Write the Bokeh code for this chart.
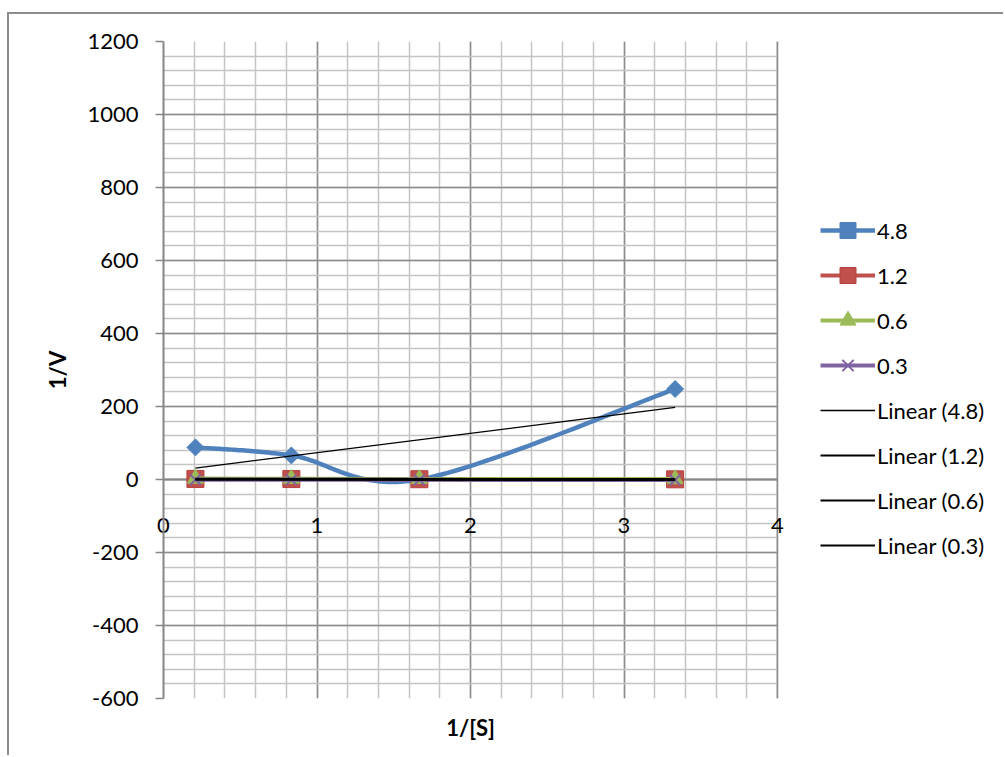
import numpy as np
from bokeh.plotting import figure
from bokeh.models import (FixedTicker, Range1d, Span, Legend, LegendItem, BoxAnnotation,
                          LinearAxis)
from bokeh.embed import file_html
from bokeh.resources import INLINE

# ---------------- data ----------------
series_names = ["4.8", "1.2", "0.6", "0.3"]
inv_s = [0.208, 0.833, 1.667, 3.333]          # 1/[S]
inv_v_48 = [88, 66, 0, 248]                    # 1/V, series 4.8
inv_v_12 = [1.5, 1.2, 0.8, 0.5]                # 1/V, series 1.2
inv_v_06 = [2.5, 2.0, 1.6, 1.2]                # 1/V, series 0.6
inv_v_03 = [-0.5, -0.8, -1.0, -1.3]            # 1/V, series 0.3
x_tick_values = [0, 1, 2, 3, 4]
x_tick_labels = ["0", "1", "2", "3", "4"]
y_tick_values = [-600, -400, -200, 0, 200, 400, 600, 800, 1000, 1200]
y_tick_labels = ["-600", "-400", "-200", "0", "200", "400", "600", "800", "1000", "1200"]
x_title, y_title = "1/[S]", "1/V"

FONT = "Lato"
FS = "22px"
MAJOR = "#8c8c8c"
MINOR = "#c4c4c4"
AXIS = "#868686"

OX, OY = 9, 14              # canvas origin inside the bordered chart area
FRAME_L, PLOT_R = 163, 777  # page x of x = 0 and x = 4
X0, X1 = x_tick_values[0], x_tick_values[-1]
X_MID = (X0 + X1) / 2
# the frame runs on to the right page edge so the legend can sit inside it
x_end = X0 + (X1 - X0) * (1005 - FRAME_L) / (PLOT_R - FRAME_L)


def smooth(xs, ys, n=40):
    """Catmull-Rom style smoothing (like Excel's smoothed line)."""
    P = np.column_stack([xs, ys]).astype(float)
    ext = np.vstack([P[0], P, P[-1]])
    out = []
    for i in range(len(P) - 1):
        p0, p1, p2, p3 = ext[i], ext[i + 1], ext[i + 2], ext[i + 3]
        c1 = p1 + (p2 - p0) / 6.0
        c2 = p2 - (p3 - p1) / 6.0
        t = np.linspace(0, 1, n)[:, None]
        seg = ((1 - t) ** 3) * p1 + 3 * ((1 - t) ** 2) * t * c1 + 3 * (1 - t) * t ** 2 * c2 + t ** 3 * p2
        out.append(seg if i == 0 else seg[1:])
    arr = np.vstack(out)
    return arr[:, 0], arr[:, 1]


p = figure(width=1005 - OX, height=757 - OY, x_range=Range1d(X0, x_end),
           y_range=Range1d(y_tick_values[0], y_tick_values[-1]),
           output_backend="svg", toolbar_location=None,
           min_border_left=FRAME_L - OX, min_border_right=0, min_border_top=41 - OY,
           min_border_bottom=59)
p.margin = (OY - 2, 0, 0, OX - 2)
p.styles = {"border-left": f"2px solid {MAJOR}", "border-top": f"2px solid {MAJOR}"}
p.background_fill_color = "white"
p.border_fill_color = "white"
p.outline_line_color = None

xt = FixedTicker(ticks=x_tick_values, minor_ticks=[i * 0.2 for i in range(21)])
yt = FixedTicker(ticks=y_tick_values, minor_ticks=list(range(-600, 1201, 40)))
p.yaxis.ticker = yt
p.xgrid.ticker = xt
p.ygrid.ticker = yt
for g in (p.xgrid, p.ygrid):
    g.grid_line_color = MAJOR
    g.grid_line_width = 1.5
    g.minor_grid_line_color = MINOR
    g.minor_grid_line_width = 1.5

# y axis
ya = p.yaxis[0]
ya.axis_line_color = AXIS
ya.axis_line_width = 2
ya.major_tick_line_color = AXIS
ya.major_tick_line_width = 1.5
ya.major_tick_out = 8
ya.major_tick_in = 0
ya.minor_tick_out = 0
ya.minor_tick_in = 0
ya.major_label_standoff = 17
ya.major_label_overrides = {v: s for v, s in zip(y_tick_values, y_tick_labels)}
ya.major_label_text_font = FONT
ya.major_label_text_font_size = FS
ya.major_label_text_color = "black"
ya.axis_label = y_title
ya.axis_label_text_font = FONT
ya.axis_label_text_font_size = FS
ya.axis_label_text_font_style = "bold"
ya.axis_label_text_color = "black"
ya.axis_label_standoff = 13


def bare_x_axis(ax):
    ax.axis_line_color = None
    ax.major_tick_out = 0
    ax.major_tick_in = 0
    ax.minor_tick_out = 0
    ax.minor_tick_in = 0
    ax.major_label_text_font = FONT
    ax.major_label_text_font_size = FS
    ax.major_label_text_color = "black"
    ax.axis_label = None


# x axis 1 (next to the frame): carries the title, centred over the plotted 0..4 span
xa = p.xaxis[0]
bare_x_axis(xa)
xa.ticker = FixedTicker(ticks=[X_MID], minor_ticks=[])
xa.major_label_overrides = {X_MID: x_title}
xa.major_label_text_font_style = "bold"
xa.major_label_standoff = 15

# x axis 2: tick labels lifted up to sit just under the y = 0 crossing line
xb = LinearAxis(ticker=FixedTicker(ticks=x_tick_values, minor_ticks=[]))
bare_x_axis(xb)
xb.major_label_overrides = {v: s for v, s in zip(x_tick_values, x_tick_labels)}
xb.major_label_standoff = -226
p.add_layout(xb, "below")

# horizontal axis line crossing at 0
p.add_layout(Span(location=0, dimension="width", line_color=AXIS, line_width=2, level="underlay"))
# blank out the frame right of x = 4 (legend area) and close the plot area
p.add_layout(BoxAnnotation(left=X1, fill_color="white", fill_alpha=1, line_color=None,
                           level="underlay"))
p.add_layout(Span(location=X1, dimension="height", line_color=MAJOR, line_width=1.5,
                  level="underlay"))

# ---------------- series ----------------
BLUE, RED, GREEN, PURPLE = "#4F81BD", "#C0504D", "#9BBB59", "#8064A2"
items = []

sx, sy = smooth(inv_s, inv_v_48)
l48 = p.line(sx, sy, line_color=BLUE, line_width=4.5)
m48 = p.scatter(inv_s, inv_v_48, marker="square", angle=np.pi / 4, size=12,
                fill_color=BLUE, line_color=BLUE)
items.append(LegendItem(label="4.8", renderers=[l48, m48]))

l12 = p.line(inv_s, inv_v_12, line_color=RED, line_width=4)
m12 = p.scatter(inv_s, inv_v_12, marker="square", size=17, fill_color=RED, line_color="#B8403D")
items.append(LegendItem(label="1.2", renderers=[l12, m12]))

l06 = p.line(inv_s, inv_v_06, line_color=GREEN, line_width=4)
m06 = p.scatter(inv_s, inv_v_06, marker="triangle", size=16, fill_color=GREEN, line_color=GREEN)
items.append(LegendItem(label="0.6", renderers=[l06, m06]))

l03 = p.line(inv_s, inv_v_03, line_color=PURPLE, line_width=4)
m03 = p.scatter(inv_s, inv_v_03, marker="x", size=15, line_color=PURPLE, line_width=2)
items.append(LegendItem(label="0.3", renderers=[l03, m03]))

# linear trend lines
xs = np.array([inv_s[0], inv_s[-1]])
for name, ys, w in [("4.8", inv_v_48, 1.3), ("1.2", inv_v_12, 2),
                    ("0.6", inv_v_06, 2), ("0.3", inv_v_03, 2)]:
    k, b = np.polyfit(inv_s, ys, 1)
    tr = p.line(xs, k * xs + b, line_color="black", line_width=w)
    items.append(LegendItem(label=f"Linear ({name})", renderers=[tr]))

legend = Legend(items=items, location=(820 - FRAME_L, 133))
legend.label_text_font = FONT
legend.label_text_font_size = FS
legend.label_text_color = "black"
legend.glyph_width = 55
legend.glyph_height = 40
legend.label_height = 40
legend.label_standoff = 2
legend.spacing = 5
legend.padding = 0
legend.margin = 0
legend.border_line_color = None
legend.background_fill_alpha = 0
p.add_layout(legend, "center")

open("out.html", "w").write(file_html(p, INLINE))
